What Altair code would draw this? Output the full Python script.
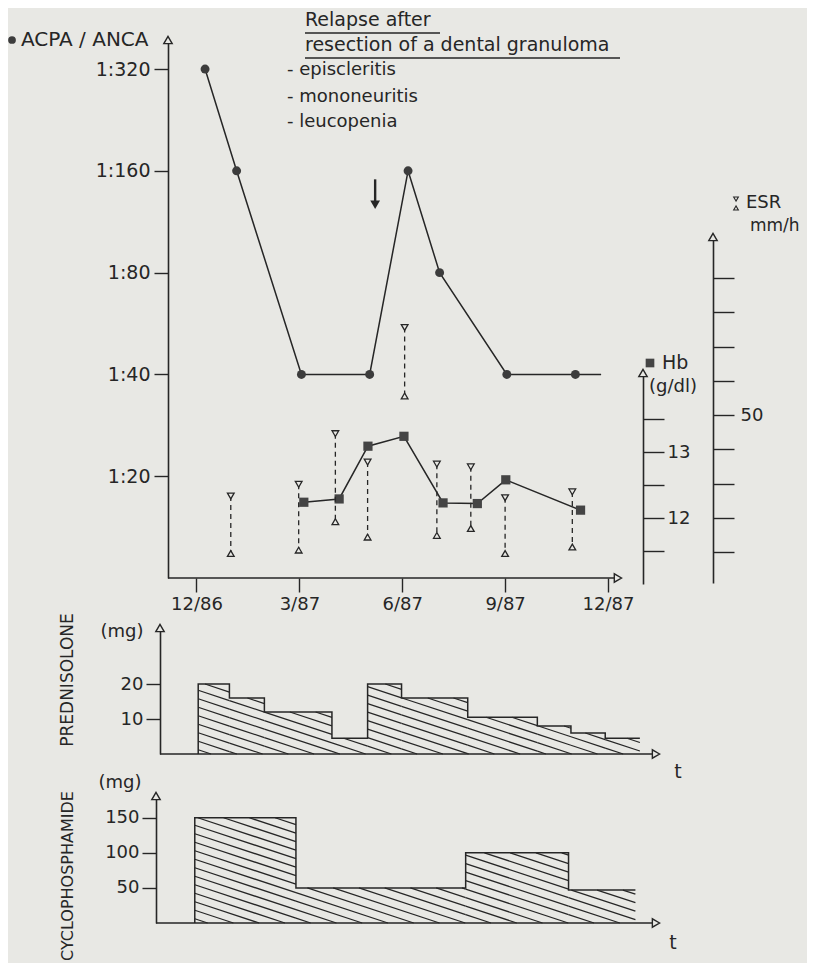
import altair as alt
import pandas as pd

# ---------------- values ----------------
# time in months after 12/86
acpa_month = [0.25, 1.17, 3.06, 5.05, 6.17, 7.09, 9.05, 11.05, 11.8]
acpa_titer = [320, 160, 40, 40, 160, 80, 40, 40, 40]
acpa_marker = [1, 1, 1, 1, 1, 1, 1, 1, 0]

hb_month = [3.13, 4.16, 5.0, 6.05, 7.19, 8.19, 9.02, 11.2]
hb_value = [12.24, 12.29, 13.09, 13.24, 12.23, 12.22, 12.58, 12.12]

esr_month = [1.0, 2.98, 4.05, 4.99, 6.07, 7.01, 8.0, 9.0, 10.96]
esr_high = [26.4, 29.8, 44.6, 36.3, 75.6, 35.7, 34.9, 25.9, 27.6]
esr_low = [9.6, 10.6, 18.9, 14.4, 55.6, 14.9, 16.9, 9.6, 11.5]

relapse_month = 5.21
relapse_from = 151
relapse_head = 127

pred_start = [0.05, 0.96, 1.98, 3.95, 4.99, 5.98, 7.91, 9.94, 10.92, 11.92]
pred_end = 12.93
pred_dose = [20, 16, 12, 4.5, 20, 16, 10.5, 8, 6, 4.5]

cyc_start = [-0.05, 2.9, 7.85, 10.85]
cyc_end = 12.8
cyc_dose = [150, 50, 100, 47]

x_tick_month = [0, 3, 6, 9, 12]
x_tick_label = ["12/86", "3/87", "6/87", "9/87", "12/87"]
acpa_ticks = [20, 40, 80, 160, 320]
hb_ticks = [11.5, 12, 12.5, 13, 13.5]
hb_labelled = [12, 13]
esr_ticks = [10, 20, 30, 40, 50, 60, 70, 80, 90]
esr_labelled = [50]
pred_ticks = [10, 20]
cyc_ticks = [50, 100, 150]

# ---------------- layout / style ----------------
W, H = 545, 955
PX = 34.29                 # pixels per month
X0 = -0.831
X1 = X0 + W / PX
X_AXIS_END = 12.29
T_AXIS_END = 13.4
PRED_AXIS_OFF = 8
CYC_AXIS_OFF = 12
HB_AXIS_OFF = 70

ink = "#262626"
dot = "#3c3c3c"
bg = "#e8e8e4"
FONT = "DejaVu Sans"

xs = alt.Scale(domain=[X0, X1], nice=False, zero=False)
acpa_scale = alt.Scale(type="log", base=2, domain=[10, 390], range=[570, 32], nice=False)
hb_scale = alt.Scale(domain=[11, 14.2], range=[576, 365], nice=False, zero=False)
esr_scale = alt.Scale(domain=[1, 102], range=[575, 229], nice=False, zero=False)
pred_scale = alt.Scale(domain=[0, 36], range=[746, 620], nice=False, zero=False)
cyc_scale = alt.Scale(domain=[0, 181], range=[915, 788], nice=False, zero=False)


def choose_expr(values, labels):
    expr = "''"
    for v, l in reversed(list(zip(values, labels))):
        expr = f"datum.value == {v} ? '{l}' : ({expr})"
    return expr


x_axis = alt.Axis(orient="bottom", offset=-(H - 570), values=x_tick_month,
                  labelExpr=choose_expr(x_tick_month, x_tick_label),
                  tickSize=14, domain=False, title=None, labelPadding=3, labelFlush=False)
acpa_axis = alt.Axis(orient="left", offset=0, values=acpa_ticks, labelExpr="'1:' + datum.value",
                     tickSize=14, title=None, labelPadding=4, labelFlush=False, labelFontSize=19)
hb_axis = alt.Axis(orient="right", offset=-HB_AXIS_OFF, values=hb_ticks,
                   labelExpr=choose_expr(hb_labelled, [str(v) for v in hb_labelled]),
                   tickSize=21, title=None, labelPadding=3, labelFlush=False)
esr_axis = alt.Axis(orient="right", offset=0, values=esr_ticks,
                    labelExpr=choose_expr(esr_labelled, [str(v) for v in esr_labelled]),
                    tickSize=21, title=None, labelPadding=6, labelFlush=False)
pred_axis = alt.Axis(orient="left", offset=PRED_AXIS_OFF, values=pred_ticks, tickSize=14,
                     title=None, labelPadding=3, labelFlush=False)
cyc_axis = alt.Axis(orient="left", offset=CYC_AXIS_OFF, values=cyc_ticks, tickSize=14,
                    title=None, labelPadding=3, labelFlush=False)


def X(field="m"):
    return alt.X(f"{field}:Q", scale=xs, axis=x_axis, title=None)


def Y(field, scale, axis=None):
    return alt.Y(f"{field}:Q", scale=scale, axis=axis, title=None)


def arrow(m, v, scale, shape):
    df = pd.DataFrame({"m": [m], "v": [v]})
    return alt.Chart(df).mark_point(shape=shape, filled=True, fill=bg, stroke=ink,
                                    strokeWidth=1.4, size=70, opacity=1).encode(
        x=X(), y=Y("v", scale))


def hline(m1, m2, v, scale):
    df = pd.DataFrame({"m": [m1], "m2": [m2], "v": [v]})
    return alt.Chart(df).mark_rule(color=ink, strokeWidth=1.6).encode(
        x=X(), x2="m2:Q", y=Y("v", scale))


def hatch(starts, end, heights, slope, spacing):
    ends = starts[1:] + [end]
    segs = []
    c = slope * starts[0] + spacing * 0.5
    cmax = max(heights) + slope * end
    while c < cmax:
        for a, b, h in zip(starts, ends, heights):
            xa = max(a, (c - h) / slope)
            xb = min(b, c / slope)
            if xb > xa:
                segs.append({"m": xa, "v": c - slope * xa, "m2": xb, "v2": c - slope * xb})
        c += spacing
    return pd.DataFrame(segs)


def outline(starts, end, heights):
    ms = [starts[0]] + starts + [end]
    vs = [0] + heights + [heights[-1]]
    return pd.DataFrame({"m": ms, "v": vs, "o": list(range(len(ms)))})


layers = []

# ---- ACPA / ANCA ----
acpa_df = pd.DataFrame({"m": acpa_month, "v": acpa_titer, "mk": acpa_marker})
layers.append(alt.Chart(acpa_df).mark_line(color=ink, strokeWidth=1.5).encode(
    x=X(), y=Y("v", acpa_scale, acpa_axis), order="m:Q"))
layers.append(alt.Chart(acpa_df).transform_filter("datum.mk == 1").mark_circle(
    size=80, color=dot, opacity=1).encode(x=X(), y=Y("v", acpa_scale)))
layers.append(hline(X0, X_AXIS_END, 10, acpa_scale))
layers.append(arrow(X_AXIS_END, 10, acpa_scale, "triangle-right"))
layers.append(arrow(X0, 390, acpa_scale, "triangle-up"))
rel_df = pd.DataFrame({"m": [relapse_month], "v": [relapse_from], "v2": [relapse_head]})
layers.append(alt.Chart(rel_df).mark_rule(color=ink, strokeWidth=2.4).encode(
    x=X(), y=Y("v", acpa_scale), y2="v2:Q"))
layers.append(alt.Chart(rel_df).mark_point(shape="triangle-down", filled=True, color=ink,
                                           size=95, opacity=1).encode(
    x=X(), y=Y("v2", acpa_scale)))

# ---- Hb ----
hb_df = pd.DataFrame({"m": hb_month, "v": hb_value})
layers.append(alt.Chart(hb_df).mark_line(color=ink, strokeWidth=1.5).encode(
    x=X(), y=Y("v", hb_scale, hb_axis), order="m:Q"))
layers.append(alt.Chart(hb_df).mark_square(size=85, color="#444444", opacity=1).encode(
    x=X(), y=Y("v", hb_scale)))
layers.append(arrow(X1 - HB_AXIS_OFF / PX, 14.2, hb_scale, "triangle-up"))

# ---- ESR ----
esr_df = pd.DataFrame({"m": esr_month, "hi": esr_high, "lo": esr_low})
layers.append(alt.Chart(esr_df).mark_rule(color=ink, strokeWidth=1.3, strokeDash=[5, 4]).encode(
    x=X(), y=Y("hi", esr_scale, esr_axis), y2="lo:Q"))
layers.append(alt.Chart(esr_df).mark_point(shape="triangle-down", filled=True, fill=bg,
                                           stroke=ink, strokeWidth=1.3, size=45, opacity=1).encode(
    x=X(), y=Y("hi", esr_scale)))
layers.append(alt.Chart(esr_df).mark_point(shape="triangle-up", filled=True, fill=bg,
                                           stroke=ink, strokeWidth=1.3, size=45, opacity=1).encode(
    x=X(), y=Y("lo", esr_scale)))
layers.append(arrow(X1, 102, esr_scale, "triangle-up"))

# ---- Prednisolone ----
pred_px = (pred_scale.range[0] - pred_scale.range[1]) / (pred_scale.domain[1] - pred_scale.domain[0])
pred_h = hatch(pred_start, pred_end, pred_dose, 0.33 * PX / pred_px, 8.5 / pred_px)
layers.append(alt.Chart(pred_h).mark_rule(color=ink, strokeWidth=1.3).encode(
    x=X(), x2="m2:Q", y=Y("v", pred_scale), y2="v2:Q"))
layers.append(alt.Chart(outline(pred_start, pred_end, pred_dose)).mark_line(
    color=ink, strokeWidth=1.5, interpolate="step-after").encode(
    x=X(), y=Y("v", pred_scale, pred_axis), order="o:Q"))
layers.append(hline(X0 - PRED_AXIS_OFF / PX, T_AXIS_END, 0, pred_scale))
layers.append(arrow(T_AXIS_END, 0, pred_scale, "triangle-right"))
layers.append(arrow(X0 - PRED_AXIS_OFF / PX, 36, pred_scale, "triangle-up"))

# ---- Cyclophosphamide ----
cyc_px = (cyc_scale.range[0] - cyc_scale.range[1]) / (cyc_scale.domain[1] - cyc_scale.domain[0])
cyc_h = hatch(cyc_start, cyc_end, cyc_dose, 0.33 * PX / cyc_px, 8.5 / cyc_px)
layers.append(alt.Chart(cyc_h).mark_rule(color=ink, strokeWidth=1.3).encode(
    x=X(), x2="m2:Q", y=Y("v", cyc_scale), y2="v2:Q"))
layers.append(alt.Chart(outline(cyc_start, cyc_end, cyc_dose)).mark_line(
    color=ink, strokeWidth=1.5, interpolate="step-after").encode(
    x=X(), y=Y("v", cyc_scale, cyc_axis), order="o:Q"))
layers.append(hline(X0 - CYC_AXIS_OFF / PX, T_AXIS_END, 0, cyc_scale))
layers.append(arrow(T_AXIS_END, 0, cyc_scale, "triangle-right"))
layers.append(arrow(X0 - CYC_AXIS_OFF / PX, 181, cyc_scale, "triangle-up"))

# ---- annotations ----
one = pd.DataFrame({"k": [0]})


def label(text, px, py, size=17, align="left", angle=0):
    return alt.Chart(pd.DataFrame({"t": [text]})).mark_text(
        align=align, baseline="middle", fontSize=size, font=FONT, color=ink, angle=angle).encode(
        x=alt.value(px), y=alt.value(py), text="t:N")


def uline(x1, x2, py):
    return alt.Chart(one).mark_rule(color=ink, strokeWidth=1.3).encode(
        x=alt.value(x1), x2=alt.value(x2), y=alt.value(py))


def symbol(shape, px, py, size, filled, color=ink):
    if filled:
        mk = alt.Chart(one).mark_point(shape=shape, filled=True, color=color, size=size, opacity=1)
    else:
        mk = alt.Chart(one).mark_point(shape=shape, filled=True, fill=bg, stroke=ink,
                                       strokeWidth=1.1, size=size, opacity=1)
    return mk.encode(x=alt.value(px), y=alt.value(py))


layers += [
    symbol("circle", -156, 32, 60, True, dot),
    label("ACPA / ANCA", -147, 32, 20),
    label("Relapse after", 137, 12, 19),
    uline(137, 272, 25),
    label("resection of a dental granuloma", 137, 37, 19),
    uline(137, 452, 50),
    label("- episcleritis", 119, 62, 18),
    label("- mononeuritis", 119, 89, 18),
    label("- leucopenia", 119, 114, 18),
    symbol("square", 482, 355, 75, True, "#444444"),
    label("Hb", 494, 355, 19),
    label("(g/dl)", 481, 379, 18),
    symbol("triangle-down", 568, 191, 22, False),
    symbol("triangle-up", 568, 200, 22, False),
    label("ESR", 578, 195, 18),
    label("mm/h", 582, 218, 17),
    label("(mg)", -46, 624, 18, "center"),
    label("(mg)", -48, 775, 18, "center"),
    label("t", 510, 764, 19, "center"),
    label("t", 505, 935, 19, "center"),
    label("PREDNISOLONE", -100, 672, 17, "center", 270),
    label("CYCLOPHOSPHAMIDE", -100, 868, 16, "center", 270),
]

chart = alt.layer(*layers).resolve_scale(y="independent").properties(
    width=W, height=H,
    padding={"left": 160, "right": 94, "top": 0, "bottom": 0},
    autosize=alt.AutoSizeParams(type="none"),
    background=bg,
).configure_view(stroke=None).configure_axis(
    labelFont=FONT, labelFontSize=18, labelColor=ink, domainColor=ink, tickColor=ink,
    domainWidth=1.6, tickWidth=1.4, grid=False,
)

chart.save("out.html", embed_options={"renderer": "svg", "actions": False})
